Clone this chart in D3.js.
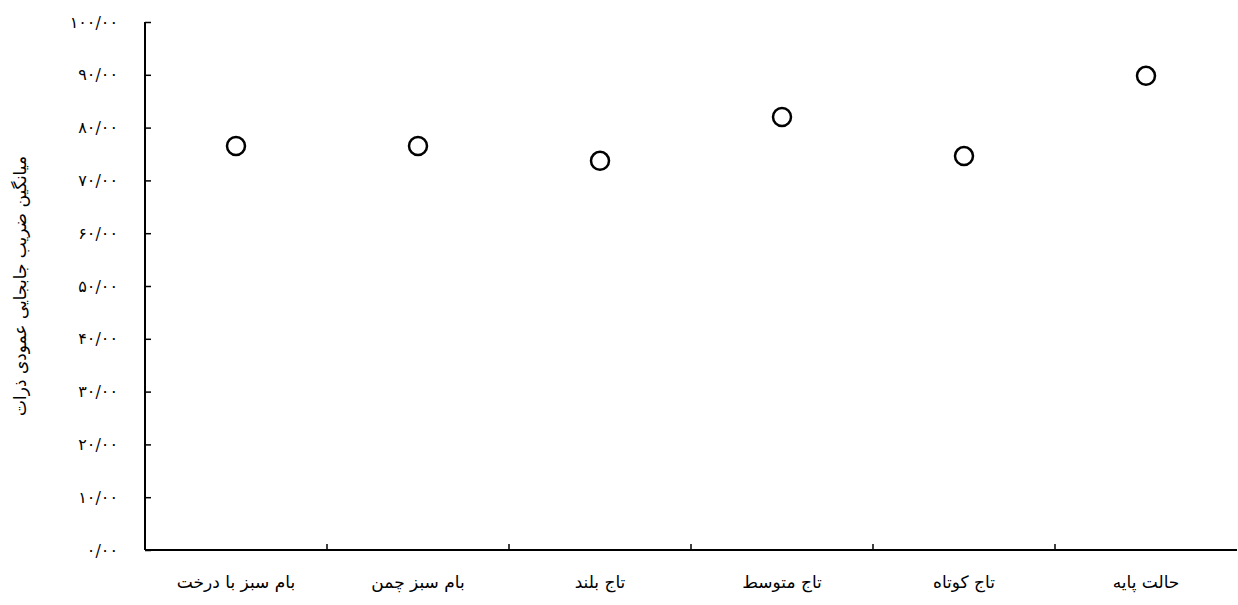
<!DOCTYPE html>
<html>
<head>
<meta charset="utf-8">
<script src="https://cdn.jsdelivr.net/npm/d3@7"></script>
<style>
  body { margin: 0; background: #fff; }
  text { font-family: "DejaVu Serif", "DejaVu Sans", serif; fill: #000; }
</style>
</head>
<body>
<div class="chart"></div>
<script>
var categories = ["بام سبز با درخت", "بام سبز چمن", "تاج بلند", "تاج متوسط", "تاج کوتاه", "حالت پایه"];
var values = [76.5, 76.5, 73.7, 82.0, 74.6, 89.8];
var yTicks = [0, 10, 20, 30, 40, 50, 60, 70, 80, 90, 100];
var yTitle = "میانگین ضریب جابجایی عمودی ذرات";

var svgWidth = 1238, svgHeight = 605;
var margin = { top: 22, right: 1, bottom: 55, left: 145 };
var width = svgWidth - margin.left - margin.right;
var height = svgHeight - margin.top - margin.bottom;

var svg = d3.select(".chart").append("svg")
  .attr("width", svgWidth).attr("height", svgHeight);
var g = svg.append("g").attr("transform", `translate(${margin.left},${margin.top})`);

var x = d3.scaleBand().domain(categories).range([0, width]);
var y = d3.scaleLinear().domain([0, 100]).range([height, 0]);

var fa = "۰۱۲۳۴۵۶۷۸۹";
function persian(v) {
  return (v + "/00").replace(/[0-9]/g, function (c) { return fa[+c]; });
}

// y axis, ticks inward
var yAxis = g.append("g")
  .call(d3.axisRight(y).tickValues(yTicks).tickSize(6).tickFormat(""));
yAxis.select(".domain").attr("d", `M0,0V${height}`).attr("stroke-width", 2);
yAxis.selectAll(".tick line").attr("stroke-width", 1.5);
g.selectAll(".ylab").data(yTicks).enter().append("text")
  .attr("x", -27).attr("y", d => y(d)).attr("dy", "0.35em")
  .attr("text-anchor", "end").attr("direction", "ltr")
  .style("font-size", "16px").text(persian);

// x axis, band boundary ticks pointing up
g.append("line").attr("x1", 0).attr("x2", width).attr("y1", height).attr("y2", height)
  .attr("stroke", "#000").attr("stroke-width", 2);
g.selectAll(".xtick").data(categories.slice(1)).enter().append("line")
  .attr("x1", d => x(d)).attr("x2", d => x(d))
  .attr("y1", height).attr("y2", height - 6)
  .attr("stroke", "#000").attr("stroke-width", 1.5);
g.selectAll(".xlab").data(categories).enter().append("text")
  .attr("x", d => x(d) + x.bandwidth() / 2).attr("y", height + 38)
  .attr("text-anchor", "middle").attr("direction", "rtl")
  .style("font-size", "17px").text(d => d);

// points
g.selectAll("circle").data(values).enter().append("circle")
  .attr("cx", (d, i) => x(categories[i]) + x.bandwidth() / 2)
  .attr("cy", d => y(d))
  .attr("r", 9).attr("fill", "#fff").attr("stroke", "#000").attr("stroke-width", 2.5);

// y title
svg.append("text")
  .attr("transform", `translate(26,${margin.top + height / 2}) rotate(-90)`)
  .attr("text-anchor", "middle").attr("direction", "rtl")
  .style("font-size", "17px").text(yTitle);
</script>
</body>
</html>
